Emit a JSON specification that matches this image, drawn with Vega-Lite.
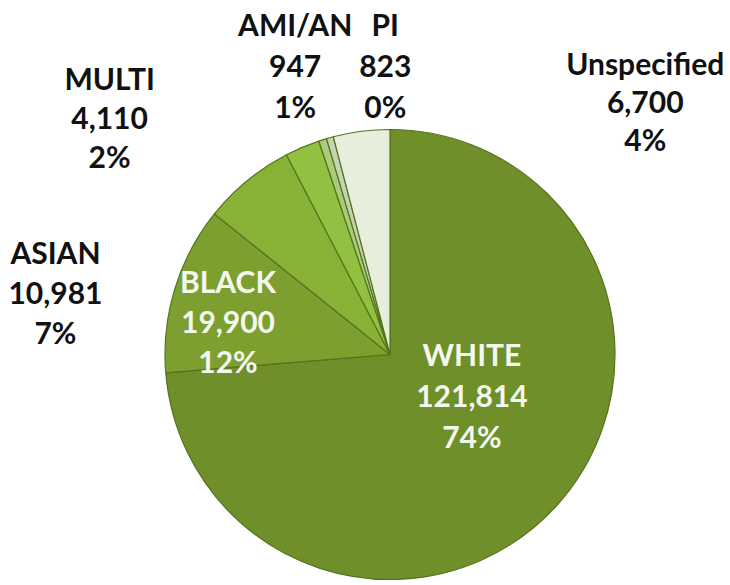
{
  "$schema": "https://vega.github.io/schema/vega-lite/v6.json",
  "autosize": {"type": "none"},
  "width": 680,
  "height": 461,
  "padding": {"left": 50, "top": 124, "right": 0, "bottom": 0},
  "background": "white",
  "config": {"view": {"stroke": null}, "text": {"font": "Lato", "fontWeight": "bold", "fontSize": 30, "lineHeight": 39}},
  "data": {
    "values": [
      {"order": 1, "group": "WHITE", "count": 121814, "label": ["WHITE", "121,814", "74%"]},
      {"order": 2, "group": "BLACK", "count": 19900, "label": ["BLACK", "19,900", "12%"]},
      {"order": 3, "group": "ASIAN", "count": 10981, "label": ["ASIAN", "10,981", "7%"]},
      {"order": 4, "group": "MULTI", "count": 4110, "label": ["MULTI", "4,110", "2%"]},
      {"order": 5, "group": "AMI/AN", "count": 947, "label": ["AMI/AN", "947", "1%"]},
      {"order": 6, "group": "PI", "count": 823, "label": ["PI", "823", "0%"]},
      {"order": 7, "group": "Unspecified", "count": 6700, "label": ["Unspecified", "6,700", "4%"]}
    ]
  },
  "encoding": {
    "theta": {"field": "count", "type": "quantitative", "stack": true},
    "order": {"field": "order", "type": "quantitative"}
  },
  "layer": [
    {
      "mark": {"type": "arc", "outerRadius": 225, "stroke": "#56731d", "strokeWidth": 1.2},
      "encoding": {
        "color": {
          "field": "group", "type": "nominal", "legend": null,
          "scale": {
            "domain": ["WHITE", "BLACK", "ASIAN", "MULTI", "AMI/AN", "PI", "Unspecified"],
            "range": ["#6f8f2a", "#7d9f30", "#88b236", "#92c041", "#a9cb7c", "#c5d2b4", "#e7eedb"]
          }
        }
      }
    },
    {
      "mark": {"type": "text", "radius": 110, "dx": 1, "dy": -72, "lineHeight": 41, "color": "#f4f7ee"},
      "encoding": {"text": {"condition": {"test": "datum.group === 'WHITE'", "field": "label"}, "value": ""}}
    },
    {
      "mark": {"type": "text", "radius": 160, "dx": -9, "dy": -24, "lineHeight": 40, "color": "#f4f7ee"},
      "encoding": {"text": {"condition": {"test": "datum.group === 'BLACK'", "field": "label"}, "value": ""}}
    },
    {
      "mark": {"type": "text", "radius": 250, "dx": -176, "dy": 94, "lineHeight": 40, "color": "#111111"},
      "encoding": {"text": {"condition": {"test": "datum.group === 'ASIAN'", "field": "label"}, "value": ""}}
    },
    {
      "mark": {"type": "text", "radius": 250, "dx": -183, "dy": -43, "color": "#111111"},
      "encoding": {"text": {"condition": {"test": "datum.group === 'MULTI'", "field": "label"}, "value": ""}}
    },
    {
      "mark": {"type": "text", "radius": 250, "dx": -20, "dy": -89, "lineHeight": 41, "color": "#111111"},
      "encoding": {"text": {"condition": {"test": "datum.group === 'AMI/AN'", "field": "label"}, "value": ""}}
    },
    {
      "mark": {"type": "text", "radius": 250, "dx": 62, "dy": -87, "lineHeight": 41, "color": "#111111"},
      "encoding": {"text": {"condition": {"test": "datum.group === 'PI'", "field": "label"}, "value": ""}}
    },
    {
      "mark": {"type": "text", "radius": 250, "dx": 287, "dy": -41, "lineHeight": 38, "color": "#111111"},
      "encoding": {"text": {"condition": {"test": "datum.group === 'Unspecified'", "field": "label"}, "value": ""}}
    }
  ]
}
